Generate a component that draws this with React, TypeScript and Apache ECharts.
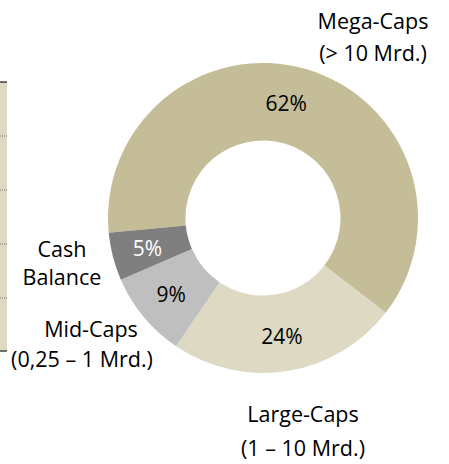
import React, { useEffect, useRef } from "react";
import * as echarts from "echarts";

const categories = ["Mega-Caps", "Large-Caps", "Mid-Caps", "Cash Balance"];
const ranges = ["(> 10 Mrd.)", "(1 – 10 Mrd.)", "(0,25 – 1 Mrd.)", ""];
const shares = [62, 24, 9, 5];
const colors = ["#C4BD97", "#DDD9C3", "#BFBFBF", "#7F7F7F"];
const labelColors = ["#000000", "#000000", "#000000", "#FFFFFF"];

const FONT = "'Open Sans', sans-serif";

export default function App() {
  const ref = useRef<HTMLDivElement>(null);
  useEffect(() => {
    document.body.style.margin = "0";
    if (!ref.current) return;
    const chart = echarts.init(ref.current, null, { renderer: "svg" });

    const nameStyle = {
      fill: "#000000",
      fontFamily: FONT,
      fontSize: 21.5,
      align: "center",
      verticalAlign: "middle",
    };
    const text = (t: string, x: number, y: number) => ({
      type: "text",
      x,
      y,
      style: { ...nameStyle, text: t },
    });

    const rowLines = [136, 190, 244, 298].map((y) => ({
      type: "line",
      shape: { x1: 0, y1: y, x2: 7, y2: y },
      style: { stroke: "#7F7F7F", lineWidth: 1, lineDash: [1, 1] },
    }));

    const option = {
      animation: false,
      backgroundColor: "#FFFFFF",
      series: [
        {
          type: "pie",
          center: [263, 218],
          radius: [77.5, 155],
          startAngle: 185.5,
          clockwise: true,
          avoidLabelOverlap: false,
          label: {
            show: true,
            position: "inside",
            formatter: "{c}%",
            fontFamily: FONT,
            fontSize: 21,
          },
          labelLine: { show: false },
          emphasis: { disabled: true },
          data: categories.map((name, i) => ({
            name,
            value: shares[i],
            itemStyle: { color: colors[i] },
            label: {
              color: labelColors[i],
              ...(i === 0 ? { offset: [-10, 0] } : {}),
            },
          })),
        },
      ],
      graphic: [
        {
          type: "rect",
          shape: { x: 0, y: 82, width: 7, height: 269 },
          style: { fill: "#DDD9C3" },
        },
        ...rowLines,
        {
          type: "line",
          shape: { x1: 0, y1: 82, x2: 7, y2: 82 },
          style: { stroke: "#404040", lineWidth: 1.5 },
        },
        {
          type: "line",
          shape: { x1: 0, y1: 351, x2: 7, y2: 351 },
          style: { stroke: "#404040", lineWidth: 1.5 },
        },
        text(categories[0], 373, 20),
        text(ranges[0], 373, 52),
        text(categories[1], 303, 413),
        text(ranges[1], 303, 447),
        text("Cash", 62, 248),
        text("Balance", 62, 276),
        text(categories[2], 91, 328),
        text(ranges[2], 82, 358),
      ],
    };
    chart.setOption(option as any);
    return () => chart.dispose();
  }, []);
  return <div ref={ref} style={{ width: 449, height: 464 }} />;
}
